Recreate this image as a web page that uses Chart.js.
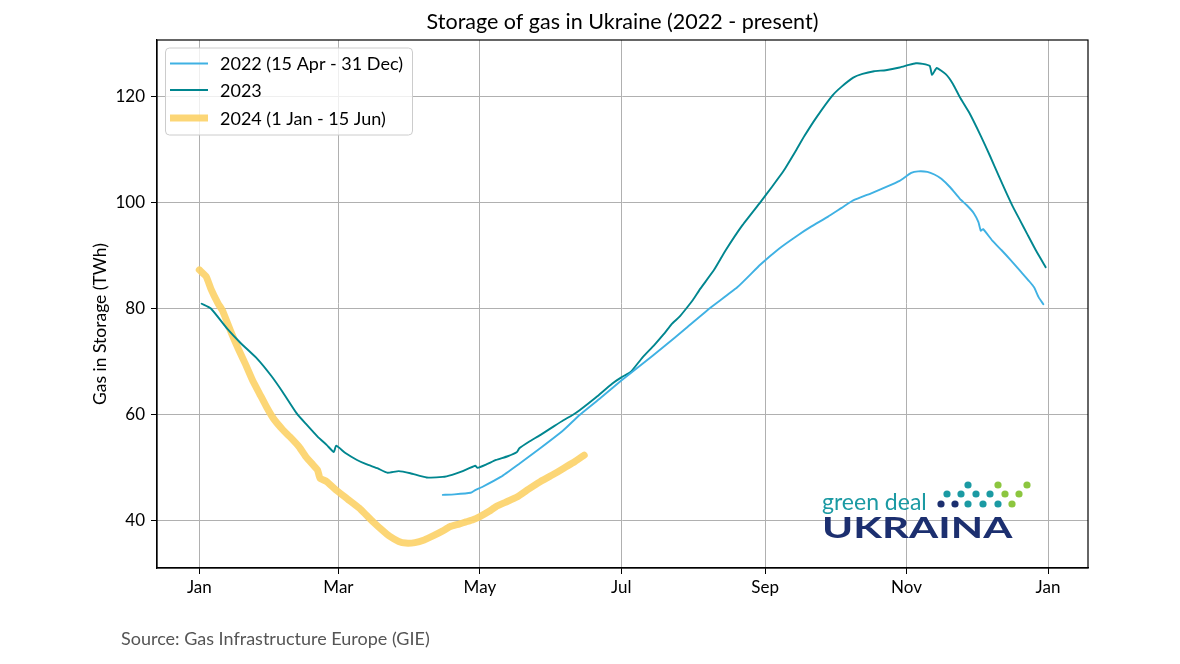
<!DOCTYPE html>
<html><head><meta charset="utf-8">
<script src="https://cdn.jsdelivr.net/npm/chart.js@4.4.1/dist/chart.umd.min.js"></script>
<style>html,body{margin:0;padding:0;background:#fff;}#wrap{width:1180px;height:664px;}</style>
</head><body><div id="wrap"><canvas id="c" width="1180" height="664"></canvas></div>
<script>
const FONT = "Lato, 'DejaVu Sans', sans-serif";
const chartTitle = "Storage of gas in Ukraine (2022 - present)";
const yAxisTitle = "Gas in Storage (TWh)";
const sourceText = "Source: Gas Infrastructure Europe (GIE)";
const seriesNames = ["2022 (15 Apr - 31 Dec)", "2023", "2024 (1 Jan - 15 Jun)"];

// x = day of year (plotted on a common leap-year calendar), y = TWh
const xTickDays = [0, 60, 121, 182, 244, 305, 366];
const xTickLabels = ["Jan", "Mar", "May", "Jul", "Sep", "Nov", "Jan"];
const yTickValues = [40, 60, 80, 100, 120];

const days2022 = [105, 110, 117, 119, 122, 130, 138, 147, 157, 164, 173, 182, 191, 200, 210, 220, 232, 242, 250, 258, 264, 271, 277, 282, 290, 296, 302, 307, 310, 314, 317, 320, 324, 328, 331, 334, 336, 337, 338, 342, 346, 350, 354, 358, 360, 362, 364];
const vals2022 = [44.8, 44.9, 45.2, 45.7, 46.3, 48.2, 50.7, 53.6, 57.0, 59.9, 63.1, 66.4, 69.5, 72.7, 76.3, 80.0, 84.0, 88.3, 91.3, 93.8, 95.5, 97.3, 99.0, 100.4, 101.8, 102.9, 104.1, 105.6, 105.9, 105.8, 105.3, 104.5, 102.8, 100.7, 99.5, 98.0, 96.3, 94.7, 95.0, 92.8, 91.0, 89.1, 87.1, 85.1, 84.0, 82.1, 80.8];

const days2023 = [1, 5, 12, 18, 25, 31, 36, 42, 46, 51, 55, 58, 59, 63, 68, 72, 77, 81, 86, 91, 98, 105, 109, 113, 119, 120, 124, 128, 133, 137, 138, 142, 147, 152, 157, 161, 164, 171, 178, 182, 186, 191, 196, 200, 204, 207, 210, 213, 216, 222, 227, 234, 242, 247, 252, 257, 261, 266, 273, 277, 282, 286, 291, 296, 302, 306, 309, 312, 315, 316, 318, 322, 325, 328, 332, 337, 341, 345, 348, 351, 354, 357, 361, 365];
const vals2023 = [80.9, 80.0, 76.2, 73.4, 70.5, 67.3, 64.2, 60.2, 58.2, 55.8, 54.2, 52.9, 54.1, 52.7, 51.4, 50.6, 49.8, 49.0, 49.3, 48.9, 48.1, 48.2, 48.6, 49.2, 50.3, 49.9, 50.6, 51.4, 52.1, 52.9, 53.6, 54.8, 56.1, 57.5, 58.9, 59.9, 60.8, 63.2, 65.8, 67.0, 68.0, 70.7, 73.0, 75.0, 77.2, 78.4, 80.0, 81.7, 83.7, 87.3, 91.0, 95.6, 100.1, 103.0, 106.0, 109.6, 112.6, 116.0, 120.2, 121.9, 123.6, 124.3, 124.8, 125.0, 125.5, 126.0, 126.3, 126.2, 125.8, 124.1, 125.4, 124.2, 122.4, 119.9, 117.0, 112.6, 108.8, 104.8, 101.9, 99.1, 96.6, 94.1, 90.8, 87.8];

const days2024 = [0, 3, 5, 8, 10, 14, 17, 20, 23, 26, 29, 32, 36, 39, 43, 46, 49, 51, 52, 55, 59, 64, 69, 72, 75, 79, 82, 86, 89, 93, 97, 101, 105, 108, 112, 115, 118, 121, 125, 128, 132, 137, 142, 147, 152, 157, 162, 166];
const vals2024 = [87.3, 86.0, 83.7, 81.0, 79.6, 75.2, 72.2, 69.4, 66.4, 63.9, 61.4, 59.2, 57.1, 55.8, 53.9, 52.0, 50.5, 49.5, 48.0, 47.3, 45.7, 44.0, 42.3, 41.0, 39.7, 38.1, 37.0, 36.0, 35.7, 35.8, 36.3, 37.1, 38.0, 38.8, 39.3, 39.7, 40.1, 40.7, 41.7, 42.6, 43.4, 44.4, 45.9, 47.3, 48.5, 49.8, 51.1, 52.3];

const colors = ["#3fb1e3", "#00868f", "rgba(252,209,103,0.9)"];
const widths = [1.9, 1.9, 7];

function pts(d, v) { return d.map((x, i) => ({ x: x, y: v[i] })); }

const decor = {
  id: 'decor',
  afterDatasetsDraw(chart) {
    const ctx = chart.ctx, a = chart.chartArea;
    ctx.save();
    // frame
    ctx.strokeStyle = '#000'; ctx.lineWidth = 1.2;
    ctx.strokeRect(a.left, a.top, a.right - a.left, a.bottom - a.top);
    // legend
    const lx = 165.5, ly = 48, lw = 247, lh = 87;
    ctx.beginPath();
    ctx.roundRect(lx, ly, lw, lh, 4);
    ctx.fillStyle = 'rgba(255,255,255,0.8)'; ctx.fill();
    ctx.strokeStyle = '#cccccc'; ctx.lineWidth = 1; ctx.stroke();
    const rows = [63.5, 90, 118];
    ctx.font = "18px " + FONT; ctx.textBaseline = 'middle'; ctx.textAlign = 'left';
    chart.data.datasets.forEach((ds, i) => {
      ctx.beginPath(); ctx.strokeStyle = ds.borderColor; ctx.lineWidth = ds.borderWidth;
      ctx.lineCap = 'butt';
      ctx.moveTo(170, rows[i]); ctx.lineTo(208, rows[i]); ctx.stroke();
      ctx.fillStyle = '#000'; ctx.fillText(ds.label, 220, rows[i] + 1);
    });
    // title
    ctx.font = "21.5px " + FONT; ctx.textAlign = 'center'; ctx.fillStyle = '#000';
    ctx.fillText(chartTitle, (a.left + a.right) / 2, 22);
    // y axis title
    ctx.save(); ctx.translate(100, 324); ctx.rotate(-Math.PI / 2);
    ctx.font = "17.5px " + FONT; ctx.fillText(yAxisTitle, 0, 0); ctx.restore();
    // source
    ctx.font = "18px " + FONT; ctx.textAlign = 'left'; ctx.fillStyle = '#555';
    ctx.fillText(sourceText, 121, 639);
    // logo
    ctx.fillStyle = '#1b9aa3'; ctx.font = "23px " + FONT; ctx.textBaseline = 'alphabetic';
    ctx.fillText("green deal", 822, 510);
    ctx.save(); ctx.translate(822, 538); ctx.scale(1.45, 1);
    ctx.fillStyle = '#1c2f6f'; ctx.font = "bold 29px " + FONT;
    ctx.fillText("UKRAINA", 0, 0); ctx.restore();
    const dots = [
      [968, 485, '#1b9aa3'], [998, 485, '#8cc63f'], [1027, 485, '#8cc63f'],
      [947, 494, '#1b9aa3'], [961, 494, '#1b9aa3'], [976, 494, '#1b9aa3'], [990, 494, '#1b9aa3'], [1005, 494, '#8cc63f'], [1019, 494, '#8cc63f'],
      [941, 504, '#1c2f6f'], [955, 504, '#1c2f6f'], [968, 504, '#1b9aa3'], [983, 504, '#1b9aa3'], [998, 504, '#1b9aa3'], [1012, 504, '#8cc63f']
    ];
    dots.forEach(d => { ctx.beginPath(); ctx.arc(d[0], d[1], 3.6, 0, Math.PI * 2); ctx.fillStyle = d[2]; ctx.fill(); });
    ctx.restore();
  }
};

new Chart(document.getElementById('c'), {
  type: 'line',
  data: {
    datasets: [
      { label: seriesNames[0], data: pts(days2022, vals2022), borderColor: colors[0], borderWidth: widths[0] },
      { label: seriesNames[1], data: pts(days2023, vals2023), borderColor: colors[1], borderWidth: widths[1] },
      { label: seriesNames[2], data: pts(days2024, vals2024), borderColor: colors[2], borderWidth: widths[2] }
    ]
  },
  options: {
    responsive: false, animation: false, devicePixelRatio: 1,
    layout: { padding: { left: 0, top: 40, right: 92, bottom: 0 } },
    elements: { point: { radius: 0 }, line: { tension: 0.15, borderCapStyle: 'round', borderJoinStyle: 'round', fill: false } },
    plugins: { legend: { display: false }, title: { display: false }, tooltip: { enabled: false } },
    scales: {
      x: {
        type: 'linear', min: -18.25, max: 383.25,
        afterBuildTicks: s => { s.ticks = xTickDays.map(v => ({ value: v })); },
        afterFit: s => { s.height = 96; },
        ticks: { callback: v => xTickLabels[xTickDays.indexOf(v)], font: { family: FONT, size: 17 }, color: '#000', padding: 3, maxRotation: 0, autoSkip: false },
        grid: { color: '#b0b0b0', lineWidth: 1, tickColor: '#000', tickLength: 6 },
        border: { color: '#000', width: 1.2 }
      },
      y: {
        type: 'linear', min: 31.0, max: 130.7,
        afterBuildTicks: s => { s.ticks = yTickValues.map(v => ({ value: v })); },
        afterFit: s => { s.width = 157; },
        ticks: { font: { family: FONT, size: 17 }, color: '#000', padding: 6 },
        grid: { color: '#b0b0b0', lineWidth: 1, tickColor: '#000', tickLength: 6 },
        border: { color: '#000', width: 1.2 }
      }
    }
  },
  plugins: [decor]
});
</script></body></html>
